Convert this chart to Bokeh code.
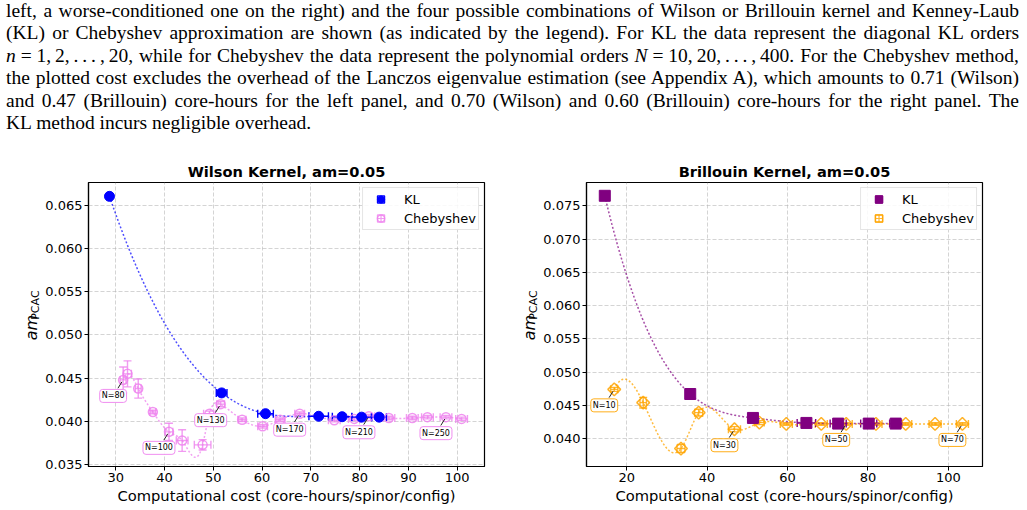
import numpy as np
from bokeh.plotting import figure
from bokeh.models import (ColumnDataSource, Whisker, TeeHead, Label, Legend, LegendItem,
                          Div, Range1d, FixedTicker, PrintfTickFormatter)
from bokeh.layouts import column, row
from bokeh.embed import file_html
from bokeh.resources import INLINE
from bokeh.core.properties import value

# ---------------- Wilson kernel, am = 0.05 ----------------
wil_kl_cost = [28.7, 51.7, 60.7, 71.6, 76.4, 80.4, 84.0]
wil_kl_cost_err = [0.5, 1.1, 1.6, 2.0, 2.0, 2.0, 1.5]
wil_kl_am = [0.0660, 0.0433, 0.0409, 0.0406, 0.04055, 0.0405, 0.0405]
wil_kl_am_err = [0.0002, 0.0002, 0.0002, 0.0002, 0.0002, 0.0002, 0.0002]

wil_ch_cost = [31.5, 32.4, 34.6, 37.6, 40.9, 43.6, 47.8, 49.2, 51.5, 55.9, 60.1,
               63.7, 67.7, 74.8, 78.9, 81.9, 86.0, 90.8, 93.9, 97.7, 100.9]
wil_ch_cost_err = [0.6, 0.8, 0.6, 0.6, 0.8, 1.2, 1.7, 1.2, 0.8, 0.8, 1.0,
                   1.0, 1.0, 1.2, 1.2, 1.2, 1.2, 1.2, 1.2, 1.2, 1.2]
wil_ch_am = [0.0448, 0.0455, 0.0438, 0.0411, 0.0388, 0.0378, 0.0373, 0.0409, 0.0420, 0.0402, 0.03945,
             0.0402, 0.0409, 0.04015, 0.0403, 0.0406, 0.0404, 0.0404, 0.0405, 0.0405, 0.0403]
wil_ch_am_err = [0.0015, 0.0015, 0.0011, 0.0002, 0.0010, 0.00125, 0.0006, 0.0003, 0.0003, 0.0002, 0.0002,
                 0.0002, 0.0002, 0.0002, 0.0002, 0.0002, 0.0002, 0.0002, 0.0002, 0.0002, 0.0002]
wil_tags = ["N=80", "N=100", "N=130", "N=170", "N=210", "N=250"]
wil_tag_idx = [0, 4, 8, 12, 15, 19]

# ---------------- Brillouin kernel, am = 0.05 ----------------
bri_kl_cost = [14.55, 35.8, 51.4, 64.7, 72.6, 80.2, 86.9]
bri_kl_cost_err = [0.4, 0.5, 0.8, 2.3, 2.0, 2.0, 1.5]
bri_kl_am = [0.0765, 0.0467, 0.0431, 0.04235, 0.04225, 0.04225, 0.04225]
bri_kl_am_err = [0.0002, 0.0002, 0.0002, 0.0002, 0.0002, 0.0002, 0.0002]

bri_ch_cost = [16.9, 24.1, 33.5, 37.9, 46.8, 53.0, 59.7, 68.4, 74.6, 82.0, 89.4, 96.7, 103.5]
bri_ch_cost_err = [0.9, 0.8, 1.0, 1.0, 1.5, 1.2, 1.5, 1.5, 1.5, 1.5, 1.5, 1.5, 1.5]
bri_ch_am = [0.0474, 0.0454, 0.0385, 0.0439, 0.0414, 0.0424, 0.0422, 0.0422, 0.0422, 0.0422, 0.0422, 0.0422, 0.0422]
bri_ch_am_err = [0.0003, 0.0008, 0.0006, 0.0005, 0.0004, 0.0003, 0.0002, 0.0002, 0.0002, 0.0002, 0.0002, 0.0002, 0.0002]
bri_tags = ["N=10", "N=30", "N=50", "N=70"]
bri_tag_idx = [0, 4, 8, 12]

caption_lines = [
    "left, a worse-conditioned one on the right) and the four possible combinations of Wilson or Brillouin kernel and Kenney-Laub",
    "(KL) or Chebyshev approximation are shown (as indicated by the legend). For KL the data represent the diagonal KL orders",
    "<i>n</i>&#8197;=&#8197;1,&thinsp;2,&thinsp;.&thinsp;.&thinsp;.&thinsp;,&thinsp;20, while for Chebyshev the data represent the polynomial orders "
    "<i>N</i>&#8197;=&#8197;10,&thinsp;20,&thinsp;.&thinsp;.&thinsp;.&thinsp;,&thinsp;400. For the Chebyshev method,",
    "the plotted cost excludes the overhead of the Lanczos eigenvalue estimation (see Appendix A), which amounts to 0.71 (Wilson)",
    "and 0.47 (Brillouin) core-hours for the left panel, and 0.70 (Wilson) and 0.60 (Brillouin) core-hours for the right panel. The",
    "KL method incurs negligible overhead.",
]

FONT = "DejaVu Sans"
FRAME_W, FRAME_H = 398, 284
FIG_H = 360
NAN = float("nan")


def spline_curve(xs, ys, num=600):
    """Not-a-knot cubic spline through the points, sorted by x."""
    order = np.argsort(xs)
    x = np.asarray(xs, float)[order]
    y = np.asarray(ys, float)[order]
    n = len(x)
    h = np.diff(x)
    A = np.zeros((n, n))
    b = np.zeros(n)
    for i in range(1, n - 1):
        A[i, i - 1] = h[i - 1]
        A[i, i] = 2 * (h[i - 1] + h[i])
        A[i, i + 1] = h[i]
        b[i] = 6 * ((y[i + 1] - y[i]) / h[i] - (y[i] - y[i - 1]) / h[i - 1])
    A[0, 0], A[0, 1], A[0, 2] = h[1], -(h[0] + h[1]), h[0]
    A[-1, -3], A[-1, -2], A[-1, -1] = h[-1], -(h[-2] + h[-1]), h[-2]
    M = np.linalg.solve(A, b)
    xx = np.linspace(x[0], x[-1], num)
    k = np.clip(np.searchsorted(x, xx) - 1, 0, n - 2)
    hk = h[k]
    a = x[k + 1] - xx
    c = xx - x[k]
    yy = (M[k] * a ** 3 / (6 * hk) + M[k + 1] * c ** 3 / (6 * hk)
          + (y[k] / hk - M[k] * hk / 6) * a + (y[k + 1] / hk - M[k + 1] * hk / 6) * c)
    return xx, yy


def add_errorbars(p, xs, xe, ys, ye, color, alpha, width=1.4, cap=8):
    src = ColumnDataSource(dict(
        x=xs, y=ys,
        xl=[a - e for a, e in zip(xs, xe)], xu=[a + e for a, e in zip(xs, xe)],
        yl=[a - e for a, e in zip(ys, ye)], yu=[a + e for a, e in zip(ys, ye)],
    ))

    def head():
        return TeeHead(size=cap, line_color=color, line_alpha=alpha, line_width=width)

    p.add_layout(Whisker(source=src, base="y", lower="xl", upper="xu", dimension="width",
                         line_color=color, line_alpha=alpha, line_width=width,
                         upper_head=head(), lower_head=head()))
    p.add_layout(Whisker(source=src, base="x", lower="yl", upper="yu", dimension="height",
                         line_color=color, line_alpha=alpha, line_width=width,
                         upper_head=head(), lower_head=head()))


def make_panel(title, width, border_left, border_right, xr, yr, xticks, yticks,
               kl, ch, kl_color, ch_color, kl_style, ch_style, tags, tag_idx):
    p = figure(width=width, height=FIG_H, output_backend="svg", toolbar_location=None,
               x_range=Range1d(*xr), y_range=Range1d(*yr),
               min_border_left=border_left, min_border_right=border_right,
               min_border_top=32, min_border_bottom=44)
    p.background_fill_color = "white"
    p.border_fill_color = "white"
    p.outline_line_color = "black"
    p.outline_line_width = 1.2

    p.title.text = title
    p.title.align = "center"
    p.title.text_font = FONT
    p.title.text_font_size = "14.6px"
    p.title.text_font_style = "bold"
    p.title.text_color = "black"
    p.title.standoff = 6

    p.xaxis.ticker = FixedTicker(ticks=xticks)
    p.yaxis.ticker = FixedTicker(ticks=yticks)
    p.xaxis.formatter = PrintfTickFormatter(format="%d")
    p.yaxis.formatter = PrintfTickFormatter(format="%.3f")
    for ax in (p.xaxis, p.yaxis):
        ax.major_label_text_font = FONT
        ax.major_label_text_font_size = "13px"
        ax.major_label_text_color = "black"
        ax.major_tick_in = 0
        ax.major_tick_out = 4
        ax.major_tick_line_color = "black"
        ax.minor_tick_line_color = None
        ax.axis_line_color = "black"
        ax.axis_line_width = 1.2
        ax.major_label_standoff = 2
    p.xaxis.axis_label = "Computational cost (core-hours/spinor/config)"
    p.xaxis.axis_label_text_font = FONT
    p.xaxis.axis_label_text_font_size = "14.7px"
    p.xaxis.axis_label_text_font_style = "normal"
    p.xaxis.axis_label_text_color = "black"
    p.xaxis.axis_label_standoff = 2

    p.grid.grid_line_color = "#b0b0b0"
    p.grid.grid_line_alpha = 0.55
    p.grid.grid_line_dash = "4 2"
    p.grid.grid_line_width = 1

    kl_x, kl_xe, kl_y, kl_ye = kl
    ch_x, ch_xe, ch_y, ch_ye = ch

    # interpolating curves through each series
    cx, cy = spline_curve(ch_x, ch_y)
    p.line(cx, cy, line_color=ch_color, line_alpha=0.75, line_width=1.5, line_dash="2 2")
    kx, ky = spline_curve(kl_x, kl_y)
    p.line(kx, ky, line_color=kl_color, line_alpha=0.7, line_width=1.5, line_dash="2 2")

    # Chebyshev points
    add_errorbars(p, ch_x, ch_xe, ch_y, ch_ye, ch_color, 0.8)
    p.scatter(ch_x, ch_y, fill_color=None, line_color=ch_color, line_alpha=0.85,
              line_width=1.5, **ch_style)
    # KL points
    add_errorbars(p, kl_x, kl_xe, kl_y, kl_ye, kl_color, 1.0)
    p.scatter(kl_x, kl_y, fill_color=kl_color, line_color=kl_color, **kl_style)

    # N=... tags with short leader lines
    sx = FRAME_W / (xr[1] - xr[0])
    sy = FRAME_H / (yr[1] - yr[0])
    dx, dy = -10 / sx, -16 / sy
    for t, i in zip(tags, tag_idx):
        px, py = ch_x[i], ch_y[i]
        p.segment(x0=[px + 0.52 * dx], y0=[py + 0.52 * dy], x1=[px + 0.12 * dx], y1=[py + 0.12 * dy],
                  line_color="#222222", line_width=1)
        p.add_layout(Label(x=px, y=py, x_offset=-10, y_offset=-16, text=t,
                           text_font=FONT, text_font_size="8px", text_color="black",
                           text_align="center", text_baseline="middle",
                           background_fill_color="white", background_fill_alpha=0.9,
                           border_line_color=ch_color, border_line_alpha=0.9, border_line_width=1,
                           padding=2, border_radius=3))

    # legend swatches (NaN positions: drawn only inside the legend)
    kl_bar = p.scatter(x=[NAN], y=[NAN], marker="square_cross", size=14, fill_color=None,
                       line_color=kl_color, line_width=1.2)
    kl_mk = p.scatter(x=[NAN], y=[NAN], fill_color=kl_color, line_color=kl_color, **kl_style)
    ch_bar = p.scatter(x=[NAN], y=[NAN], marker="square_cross", size=14, fill_color=None,
                       line_color=ch_color, line_alpha=0.8, line_width=1.2)
    ch_mk = p.scatter(x=[NAN], y=[NAN], fill_color=None, line_color=ch_color, line_alpha=0.85,
                      line_width=1.5, **ch_style)
    legend = Legend(items=[LegendItem(label="KL", renderers=[kl_bar, kl_mk]),
                           LegendItem(label="Chebyshev", renderers=[ch_bar, ch_mk])],
                    location="top_right", margin=5, padding=2, spacing=1,
                    glyph_width=31, glyph_height=18, label_height=18, label_standoff=8,
                    label_text_font=FONT, label_text_font_size="13px", label_text_color="black",
                    border_line_color="#cccccc", border_line_width=1,
                    background_fill_color="white", background_fill_alpha=0.85)
    p.add_layout(legend)
    return p


def ylabel_strip(width, base_x):
    """Narrow canvas holding the rotated y-axis title  am_PCAC."""
    f = figure(width=width, height=FIG_H, output_backend="svg", toolbar_location=None,
               x_range=Range1d(0, width), y_range=Range1d(0, FIG_H),
               x_axis_type=None, y_axis_type=None, min_border=0)
    f.outline_line_color = None
    f.grid.visible = False
    f.background_fill_color = "white"
    f.border_fill_color = "white"
    # text boxes centred on vertical lines; the subscript sits a little lower
    f.text(x=[base_x - 6.5], y=[160], text=["am"], angle=np.pi / 2,
           text_font=value(FONT), text_font_size="16px", text_font_style="italic",
           text_color="black", text_align="left", text_baseline="middle")
    f.text(x=[base_x - 2.5], y=[186], text=["PCAC"], angle=np.pi / 2,
           text_font=value(FONT), text_font_size="11px",
           text_color="black", text_align="left", text_baseline="middle")
    return f


left = make_panel("Wilson Kernel, am=0.05", 458, 44, 16, (24.4, 105.6), (0.0348, 0.0676),
                  [30, 40, 50, 60, 70, 80, 90, 100],
                  [0.035, 0.040, 0.045, 0.050, 0.055, 0.060, 0.065],
                  (wil_kl_cost, wil_kl_cost_err, wil_kl_am, wil_kl_am_err),
                  (wil_ch_cost, wil_ch_cost_err, wil_ch_am, wil_ch_am_err),
                  "#0000ff", "#ee82ee",
                  dict(marker="circle", size=10),
                  dict(marker="circle", size=9),
                  wil_tags, wil_tag_idx)

right = make_panel("Brillouin Kernel, am=0.05", 487, 44, 45, (10.0, 108.5), (0.0358, 0.0785),
                   [20, 40, 60, 80, 100],
                   [0.040, 0.045, 0.050, 0.055, 0.060, 0.065, 0.070, 0.075],
                   (bri_kl_cost, bri_kl_cost_err, bri_kl_am, bri_kl_am_err),
                   (bri_ch_cost, bri_ch_cost_err, bri_ch_am, bri_ch_am_err),
                   "#800080", "#ffa500",
                   dict(marker="square", size=11),
                   dict(marker="square", size=9, angle=np.pi / 4),
                   bri_tags, bri_tag_idx)

left_label = ylabel_strip(42, 37)
right_label = ylabel_strip(40, 35)

line_style = ("text-align:justify; text-align-last:justify; height:22.4px; line-height:22.4px; "
              "white-space:nowrap;")
last_style = "text-align:left; height:22.4px; line-height:22.4px; white-space:nowrap;"
body = "".join(f"<div style='{line_style}'>{t}</div>" for t in caption_lines[:-1])
body += f"<div style='{last_style}'>{caption_lines[-1]}</div>"
caption = Div(text=("<div style=\"font-family:'Liberation Serif', serif; font-size:19.5px; color:#000; "
                    f"width:1013px; margin:0 0 0 6px; padding:0;\">{body}</div>"),
              width=1027, height=150, margin=(0, 0, 0, 0))

layout = column(caption, row(left_label, left, right_label, right, spacing=0), spacing=0)

open("out.html", "w").write(file_html(layout, INLINE))
